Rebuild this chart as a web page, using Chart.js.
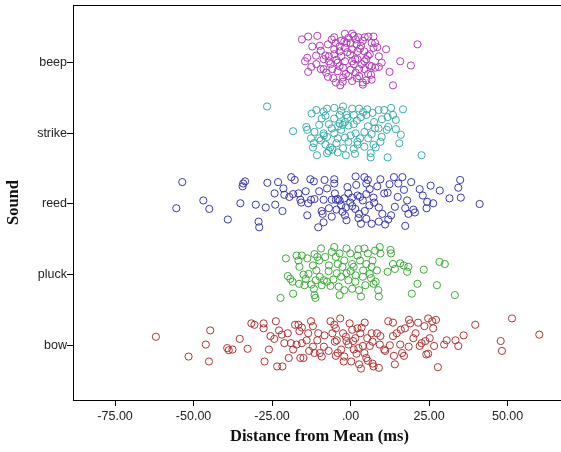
<!DOCTYPE html>
<html>
<head>
<meta charset="utf-8">
<script src="https://cdn.jsdelivr.net/npm/chart.js@4/dist/chart.umd.min.js"></script>
<style>
html,body{margin:0;padding:0;background:#fff;overflow:hidden;}
#wrap{width:580px;height:452px;}
</style>
</head>
<body>
<div id="wrap"><canvas id="c" width="580" height="452"></canvas></div>
<script>
// Categories bottom to top (y index 1..5)
const categories = ['bow', 'pluck', 'reed', 'strike', 'beep'];
const yTickValues = [1, 2, 3, 4, 5];
const xTickValues = [-75, -50, -25, 0, 25, 50];

// Each series: x = distance from mean (ms), j = vertical jitter within its band
const beepX = [-15.5,-13.5,-10.6,-5.2,-1.8,0.5,2.5,5.6,7.3,21.3,-12.2,-9.8,-7.2,-4.7,-3.0,-0.7,1.6,3.9,6.7,7.8,11.3,-13.8,-14.5,-10.9,-8.6,-6.9,-5.2,-3.5,-1.8,0.5,2.2,4.4,6.1,9.0,9.9,15.8,19.2,-13.5,-9.5,-7.8,-7.2,-4.7,-3.3,-2.4,-0.7,1.6,2.7,3.9,5.0,6.7,7.8,9.0,12.4,13.5,-6.4,-4.1,-1.8,0.5,2.2,4.4,6.7,-0.1,-2.4,-5.8,2.7,4.4,0.5,3.9,-4.1,-6.9,7.3,1.9,-1.3,-3.5,3.3,-5.2,5.0,-3.0,1.0,5.6,-8.6,-2.0,0.0,3.0,-1.0,1.5,-3.5,0.0,-1.5,2.0,-5.5,-8.0,-9.5,4.5,6.0,-4.5,8.5,-11.0,-12.5,1.0,-6.0,5.5,3.5,-2.5,6.5];
const beepJ = [0.33,0.37,0.38,0.36,0.41,0.41,0.36,0.37,0.37,0.26,0.23,0.24,0.26,0.28,0.31,0.35,0.33,0.31,0.28,0.28,0.19,0.07,0.02,-0.02,0.05,0.09,0.12,0.16,0.21,0.19,0.16,0.16,0.12,0.09,0.0,0.02,-0.04,-0.13,-0.09,-0.14,-0.20,-0.28,-0.32,-0.21,-0.19,-0.14,-0.19,-0.28,-0.25,-0.24,-0.07,-0.06,-0.13,-0.32,-0.02,0.0,0.02,0.02,0.05,0.02,-0.05,0.12,-0.07,-0.09,-0.09,-0.09,-0.26,-0.31,-0.12,0.02,0.21,0.26,0.28,0.23,0.24,0.19,0.05,0.09,-0.02,-0.16,-0.09,0.30,0.28,0.20,0.15,0.05,-0.05,-0.10,-0.16,-0.22,-0.22,0.10,0.17,0.36,-0.04,0.04,0.22,0.10,-0.06,0.38,0.33,0.10,-0.02,-0.27,-0.17];

const strikeX = [-26.6,-18.3,-14.1,-13.8,-12.4,-10.9,-12.6,-11.7,-12.0,-10.7,-9.2,-8.6,-7.5,-5.2,-2.4,0.5,2.7,5.3,8.9,10.7,12.9,16.7,14.4,13.5,11.8,7.5,8.9,11.5,14.4,16.0,15.5,9.9,11.8,22.6,6.4,6.4,1.4,-1.5,-4.1,-7.5,-5.8,-2.4,2.2,4.4,7.3,-8.6,-7.5,-8.0,-5.2,-4.1,-1.8,1.6,4.4,6.7,-3.5,-1.8,-0.7,1.0,3.3,5.0,-6.9,-5.2,-3.5,-1.3,1.0,-11.5,-10.0,9.5,2.2,-0.7,5.6,7.8,-4.0,-2.5,-3.0,-6.0,-1.0,2.0,-8.0,-9.5,-8.5,0.0,3.0,-4.5,-6.5,4.0,7.0,-10.0,-3.0,1.0,8.0,5.5,10.0,12.0,-7.0];
const strikeJ = [0.38,0.03,0.09,0.05,0.28,0.33,-0.07,-0.14,-0.20,-0.31,0.21,0.31,0.35,0.36,0.38,0.35,0.35,0.34,0.33,0.33,0.36,0.34,0.19,0.26,0.23,0.16,0.07,0.05,0.06,-0.02,-0.14,-0.05,-0.34,-0.31,-0.34,-0.28,-0.29,-0.31,-0.27,-0.28,-0.23,-0.21,-0.12,-0.19,-0.16,0.0,-0.05,-0.16,0.0,-0.07,-0.06,0.0,0.02,-0.01,0.14,0.16,0.11,0.13,0.23,0.26,0.13,0.21,0.26,0.26,0.26,0.02,-0.07,-0.12,-0.16,-0.12,-0.07,0.07,0.10,0.12,0.05,0.07,0.22,0.18,0.25,-0.10,-0.03,-0.03,-0.07,-0.14,-0.20,0.30,0.29,0.12,0.32,-0.22,-0.20,0.10,0.20,0.09,-0.25];

const reedX = [-53.6,-55.5,-46.9,-45.0,-39.1,-35.1,-34.4,-33.6,-34.2,-30.2,-29.3,-29.1,-26.5,-24.2,-24.0,-23.1,-21.7,-21.4,-21.1,-18.9,-18.3,-17.8,-16.6,-16.0,-15.7,-14.3,-13.8,-12.8,-12.6,-11.7,-11.5,-10.3,-9.2,-8.9,-8.6,-8.3,-8.6,-6.9,-6.0,-5.2,-5.2,-5.0,-4.7,-4.1,-3.5,-2.6,-1.8,-1.3,-0.7,-0.1,0.5,1.6,1.8,2.2,2.7,3.3,3.9,4.4,5.0,5.0,6.1,6.7,7.3,9.0,9.5,10.1,10.7,11.0,11.8,12.4,12.9,13.8,14.1,15.2,16.5,17.4,17.4,17.0,18.4,19.3,20.5,22.0,24.2,24.4,25.5,26.3,28.4,31.5,34.3,34.9,35.1,41.1,-3.0,-1.5,0.5,1.5,-2.0,3.0,4.5,6.0,7.5,-4.5,-10.0,-13.5,-7.5,8.5,5.5,-1.0,2.5,5.0,15.0,18.0,20.0,23.0,12.0,9.0,-6.0,-19.5,-27.0];
const reedJ = [0.31,-0.06,0.05,-0.07,-0.22,0.01,0.25,0.32,0.29,-0.01,-0.25,-0.33,0.30,0.15,-0.01,0.31,-0.10,0.22,0.13,0.38,0.14,0.34,0.15,0.06,0.02,0.18,-0.16,0.35,0.06,0.32,0.07,-0.33,-0.10,-0.14,-0.26,0.34,0.06,-0.06,0.06,0.35,0.29,0.15,0.06,0.07,0.05,-0.11,-0.16,-0.23,0.15,0.02,0.09,0.39,0.27,0.12,-0.14,-0.28,0.05,0.38,0.29,0.14,0.21,-0.28,0.09,-0.05,0.35,-0.14,0.15,-0.29,0.16,0.28,-0.16,0.38,-0.04,0.29,0.38,-0.31,-0.06,0.20,-0.14,0.31,-0.12,0.21,-0.06,0.03,0.26,0.01,0.19,0.08,0.23,0.34,0.09,0.0,-0.02,-0.05,-0.03,-0.07,0.08,0.10,-0.10,-0.02,0.02,-0.08,0.18,0.01,0.22,0.25,0.34,0.24,-0.20,-0.21,0.10,0.05,-0.08,0.12,-0.22,-0.25,-0.18,0.10,-0.05];

const pluckX = [-22.3,-20.6,-20.0,-19.2,-18.3,-18.5,-17.2,-16.6,-16.3,-16.4,-15.5,-13.8,-13.4,-14.3,-14.7,-12.0,-11.5,-10.6,-10.9,-11.1,-11.7,-11.2,-11.5,-9.4,-9.8,-9.2,-8.1,-7.5,-6.9,-6.4,-5.2,-4.7,-4.1,-4.4,-3.5,-3.8,-3.0,-2.6,-1.3,-1.3,-0.7,-0.1,0.5,1.0,1.6,2.2,2.7,3.3,3.9,4.4,4.7,5.0,6.1,6.7,7.3,7.8,8.4,8.8,9.0,9.3,9.5,11.8,12.7,12.9,13.5,14.1,15.8,16.9,18.0,18.4,19.5,21.3,23.3,27.5,28.3,30.0,33.2,-7.0,-5.5,-2.0,0.0,1.5,3.0,5.5,6.5,-8.5,-12.5,-15.0,7.0,2.5,-2.0,0.5,4.0,-10.0,8.0,-6.0,-3.5];
const pluckJ = [-0.33,0.23,-0.02,-0.06,-0.27,-0.10,0.27,0.20,0.11,-0.13,0.27,0.23,0.01,-0.06,-0.15,0.13,0.29,0.25,0.06,-0.08,-0.20,-0.33,-0.29,0.37,-0.03,-0.15,0.25,-0.10,0.13,-0.16,0.39,0.25,0.15,0.02,-0.29,-0.17,-0.03,0.11,0.37,0.02,-0.08,0.30,0.15,0.11,-0.01,0.27,-0.22,-0.31,-0.03,0.37,-0.15,0.15,0.01,0.11,-0.13,0.34,0.06,-0.22,-0.31,0.39,0.30,0.04,0.35,0.30,0.15,0.08,0.16,0.13,0.04,0.11,-0.27,-0.13,0.07,-0.15,0.18,0.15,-0.29,0.05,-0.07,0.20,0.05,-0.10,0.20,0.30,-0.05,-0.08,-0.14,0.0,0.20,0.36,-0.22,-0.20,0.06,0.20,-0.10,0.32,0.30];

const bowX = [-62.0,-51.6,-46.1,-44.7,-45.1,-39.3,-38.8,-37.6,-35.3,-32.8,-31.6,-30.6,-27.7,-27.7,-27.4,-26.0,-24.3,-23.8,-23.4,-21.7,-22.8,-21.9,-21.1,-20.0,-19.7,-18.3,-17.7,-17.2,-16.6,-16.3,-16.0,-15.5,-15.0,-14.0,-13.5,-13.2,-12.6,-12.0,-11.5,-10.6,-10.3,-9.8,-9.2,-8.3,-6.4,-5.8,-5.2,-4.7,-4.4,-4.1,-4.7,-3.3,-3.0,-2.4,-2.2,-1.3,-0.7,-0.3,0.2,0.8,1.0,1.9,2.2,2.7,3.3,3.1,3.9,4.4,5.0,5.3,6.1,6.7,7.0,7.3,8.4,9.0,9.3,10.7,12.0,13.5,13.5,13.8,14.1,14.7,15.8,16.4,17.0,17.3,18.6,19.0,20.7,21.5,22.0,22.6,23.5,23.8,24.1,24.7,24.7,25.2,26.0,26.3,26.6,27.2,27.8,29.8,30.6,33.4,34.3,36.0,39.7,47.8,48.2,51.4,60.1,-1.5,-8.5,1.5,4.5,-2.0,5.5,0.5,-12.0,9.5,11.0,16.0,-19.0,-7.0,3.5,-15.5,-25.5,2.5,7.0,12.5,-5.0,18.5,20.0];
const bowJ = [0.12,-0.16,0.01,0.21,-0.23,-0.04,-0.07,-0.06,0.09,-0.05,0.31,0.29,0.31,0.24,-0.23,-0.06,0.09,0.34,-0.30,-0.30,0.21,0.15,0.03,0.17,-0.18,-0.06,0.29,0.01,0.29,0.20,-0.18,0.03,-0.18,0.07,0.17,-0.08,0.34,0.27,-0.11,0.07,0.17,-0.11,-0.16,0.14,0.34,0.17,0.29,0.24,0.07,-0.11,-0.15,0.38,-0.06,0.17,-0.23,0.06,0.01,0.31,-0.23,0.06,-0.06,-0.12,0.24,-0.27,-0.33,0.17,-0.01,-0.11,-0.18,0.10,-0.01,0.17,-0.26,-0.30,0.17,-0.32,0.01,-0.06,0.34,0.32,0.13,-0.15,-0.27,0.17,0.01,-0.11,-0.15,0.24,0.36,0.31,0.17,0.32,-0.01,0.03,0.27,0.06,-0.13,-0.12,0.38,0.10,0.34,0.24,-0.01,0.36,-0.31,0.01,0.07,0.07,-0.01,0.14,0.29,0.06,-0.08,0.38,0.15,0.12,-0.02,0.10,0.32,-0.16,-0.22,0.22,-0.02,0.13,-0.08,0.22,0.03,-0.08,0.25,0.25,0.13,-0.04,0.05,0.00,0.05,-0.02,0.10];

function band(xs, js, idx) {
  return xs.map((x, i) => ({ x: x, y: idx + js[i] }));
}

const seriesDefs = [
  { name: 'bow',    xs: bowX,    js: bowJ,    color: '#b03535' },
  { name: 'pluck',  xs: pluckX,  js: pluckJ,  color: '#3dab3a' },
  { name: 'reed',   xs: reedX,   js: reedJ,   color: '#3a38b2' },
  { name: 'strike', xs: strikeX, js: strikeJ, color: '#3aacaa' },
  { name: 'beep',   xs: beepX,   js: beepJ,   color: '#b03cb8' }
];

const datasets = seriesDefs.map(s => ({
  label: s.name,
  data: band(s.xs, s.js, categories.indexOf(s.name) + 1),
  borderColor: s.color,
  backgroundColor: 'rgba(0,0,0,0)',
  pointRadius: 3.6,
  pointBorderWidth: 1,
  pointStyle: 'circle'
}));

const frame = {
  id: 'frame',
  afterDraw(chart) {
    const a = chart.chartArea, ctx = chart.ctx;
    ctx.save();
    ctx.strokeStyle = '#000';
    ctx.lineWidth = 1;
    ctx.beginPath();
    ctx.moveTo(a.left, a.top + 0.5);
    ctx.lineTo(a.right, a.top + 0.5);
    ctx.stroke();
    ctx.restore();
  }
};

new Chart(document.getElementById('c'), {
  type: 'scatter',
  data: { datasets },
  options: {
    responsive: false,
    animation: false,
    layout: { padding: { top: 4, right: 14, left: 0, bottom: 0 } },
    plugins: { legend: { display: false }, tooltip: { enabled: false } },
    scales: {
      x: {
        type: 'linear',
        min: -88.4,
        max: 68.6,
        afterFit(s) { s.height = 52; },
        afterBuildTicks(s) { s.ticks = xTickValues.map(v => ({ value: v })); },
        grid: { display: true, drawOnChartArea: false, drawTicks: true, tickLength: 6, color: '#000', tickColor: '#000' },
        border: { display: true, color: '#000', width: 1 },
        ticks: {
          color: '#222',
          padding: 3,
          font: { family: '"Liberation Sans", Arial, sans-serif', size: 12.5 },
          callback: v => v === 0 ? '.00' : v.toFixed(2)
        },
        title: {
          display: true,
          text: 'Distance from Mean (ms)',
          color: '#111',
          padding: { top: 0, bottom: 5 },
          font: { family: '"Liberation Serif", "Times New Roman", serif', size: 16.5, weight: 'bold' }
        }
      },
      y: {
        type: 'linear',
        min: 0.225,
        max: 5.817,
        afterFit(s) { s.width = 73; s.paddingTop = 0; s.paddingBottom = 0; },
        afterBuildTicks(s) { s.ticks = yTickValues.map(v => ({ value: v })); },
        grid: { display: true, drawOnChartArea: false, drawTicks: true, tickLength: 6, color: '#000', tickColor: '#000' },
        border: { display: true, color: '#000', width: 1 },
        ticks: {
          color: '#222',
          padding: 0,
          font: { family: '"Liberation Sans", Arial, sans-serif', size: 12.5 },
          callback: v => categories[v - 1]
        },
        title: {
          display: true,
          text: 'Sound',
          color: '#111',
          padding: { top: 4, bottom: 0 },
          font: { family: '"Liberation Serif", "Times New Roman", serif', size: 16.5, weight: 'bold' }
        }
      }
    }
  },
  plugins: [frame]
});
</script>
</body>
</html>
